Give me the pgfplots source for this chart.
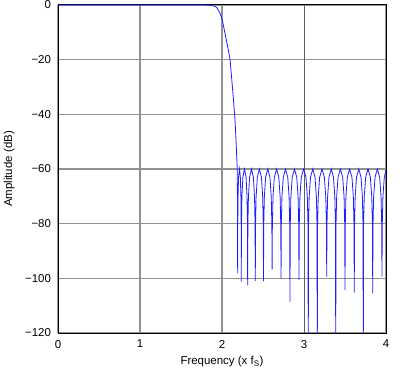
\documentclass[border=0pt]{standalone}
\usepackage{fontspec}
\setmainfont{Liberation Sans}
\usepackage{pgfplots}
\pgfplotsset{compat=1.18}
\definecolor{gridgray}{RGB}{145,145,145}
\definecolor{darkgrid}{RGB}{95,95,95}
\definecolor{curveblue}{RGB}{30,30,255}
\begin{document}
\fontsize{11.5}{13}\selectfont
\begin{tikzpicture}
\begin{axis}[
  name=ax,
  scale only axis,
  width=328bp, height=328bp,
  xmin=0, xmax=4, ymin=-120, ymax=0,
  xtick={0,1,2,4},
  xticklabels={0,1,2,4},
  extra x ticks={3},
  extra x tick labels={3},
  extra x tick style={major grid style={darkgrid, line width=0.9pt}},
  ytick={-120,-100,-80,-60,-40,-20,0},
  yticklabels={−120,−100,−80,−60,−40,−20,0},
  major tick length=0pt,
  grid=major,
  major grid style={gridgray, line width=1.3pt},
  axis line style={black, line width=1pt},
  tick label style={font=\fontsize{11.5}{13}\selectfont},
  xticklabel style={yshift=-3bp},
  yticklabel style={xshift=-3bp},
  xlabel={Frequency (x f\textsubscript{S})},
  ylabel={Amplitude (dB)},
  xlabel style={at={(axis description cs:0.5,-0.088)}, anchor=center},
  ylabel style={at={(axis description cs:-0.149,0.5)}, anchor=center, rotate=0},
  clip=true,
]
\addplot[curveblue, line width=0.8pt] coordinates {
(0,0) (1.7,0) (1.80,-0.02) (1.85,-0.1) (1.90,-0.35) (1.935,-0.85) (1.976,-3.0) (2.004,-5.5) (2.037,-10.4) (2.069,-15.2) (2.098,-19.9) (2.13,-31.1) (2.159,-42.1) (2.171,-49.4) (2.186,-60) (2.189,-75) (2.191,-98.2)
(2.1923,-80.5) (2.1954,-70.2) (2.202,-63) (2.213,-60) (2.224,-63) (2.2306,-70.2) (2.2337,-80.5) (2.235,-101.2)
(2.2373,-80.5) (2.2428,-70.2) (2.2545,-63) (2.274,-60) (2.2935,-63) (2.3052,-70.2) (2.3107,-80.5) (2.313,-102.6)
(2.3158,-80.5) (2.3223,-70.2) (2.3363,-63) (2.3595,-60) (2.3828,-63) (2.3967,-70.2) (2.4032,-80.5) (2.406,-101.0)
(2.409,-80.5) (2.416,-70.2) (2.431,-63) (2.456,-60) (2.481,-63) (2.496,-70.2) (2.503,-80.5) (2.506,-101.0)
(2.5092,-80.5) (2.5165,-70.2) (2.5323,-63) (2.5585,-60) (2.5848,-63) (2.6005,-70.2) (2.6079,-80.5) (2.611,-96.7)
(2.6143,-80.5) (2.6219,-70.2) (2.6383,-63) (2.6655,-60) (2.6928,-63) (2.7091,-70.2) (2.7167,-80.5) (2.720,-100.0)
(2.7233,-80.5) (2.7309,-70.2) (2.7473,-63) (2.7745,-60) (2.8018,-63) (2.8181,-70.2) (2.8257,-80.5) (2.829,-108.6)
(2.8323,-80.5) (2.8400,-70.2) (2.8565,-63) (2.884,-60) (2.9115,-63) (2.928,-70.2) (2.9357,-80.5) (2.939,-100.6)
(2.9424,-80.5) (2.9503,-70.2) (2.9673,-63) (2.9955,-60) (3.0238,-63) (3.0407,-70.2) (3.0486,-80.5) (3.052,-130)
(3.0553,-80.5) (3.063,-70.2) (3.0795,-63) (3.107,-60) (3.1345,-63) (3.151,-70.2) (3.1587,-80.5) (3.162,-130)
(3.1655,-80.5) (3.1735,-70.2) (3.1908,-63) (3.2195,-60) (3.2483,-63) (3.2655,-70.2) (3.2736,-80.5) (3.277,-99.4)
(3.2803,-80.5) (3.288,-70.2) (3.3045,-63) (3.332,-60) (3.3595,-63) (3.376,-70.2) (3.3837,-80.5) (3.387,-130)
(3.3904,-80.5) (3.3983,-70.2) (3.4153,-63) (3.4435,-60) (3.4718,-63) (3.4887,-70.2) (3.4966,-80.5) (3.500,-104.3)
(3.5034,-80.5) (3.5113,-70.2) (3.5283,-63) (3.5565,-60) (3.5848,-63) (3.6017,-70.2) (3.6096,-80.5) (3.613,-105.2)
(3.6163,-80.5) (3.624,-70.2) (3.6405,-63) (3.668,-60) (3.6955,-63) (3.712,-70.2) (3.7197,-80.5) (3.723,-130)
(3.7265,-80.5) (3.7345,-70.2) (3.7518,-63) (3.7805,-60) (3.8093,-63) (3.8265,-70.2) (3.8346,-80.5) (3.838,-105.5)
(3.8414,-80.5) (3.8493,-70.2) (3.8663,-63) (3.8945,-60) (3.9228,-63) (3.9397,-70.2) (3.9476,-80.5) (3.951,-99.4)
(3.9544,-80.5) (3.9623,-70.2) (3.9793,-63) (4.0,-60.3)
};
\node[font=\fontsize{6}{7}\selectfont, anchor=center] at (axis description cs:1.015,-0.116) {G006};
\end{axis}
\pgfresetboundingbox
\path[use as bounding box] ([xshift=-58bp,yshift=-44bp]ax.south west) rectangle ([xshift=16bp,yshift=5bp]ax.north east);
\end{tikzpicture}
\end{document}
